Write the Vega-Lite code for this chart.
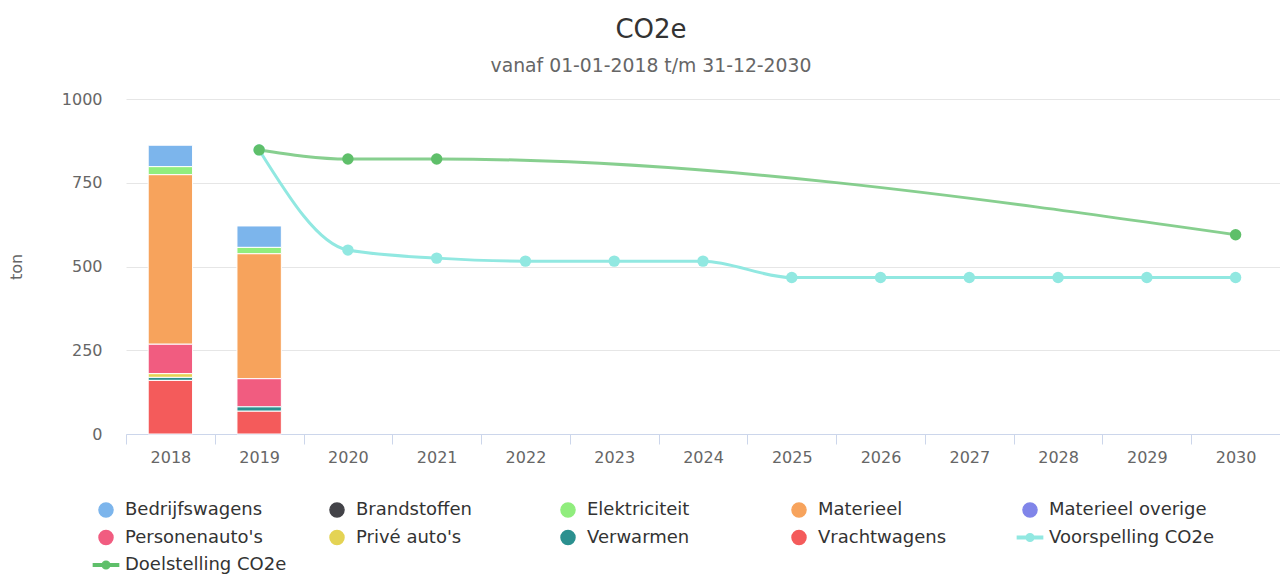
{
  "$schema": "https://vega.github.io/schema/vega-lite/v6.json",
  "width": 1154,
  "height": 335,
  "autosize": {"type": "none"},
  "padding": {"left": 126, "top": 99, "right": 0, "bottom": 143},
  "background": "white",
  "title": {
    "text": "CO2e",
    "subtitle": "vanaf 01-01-2018 t/m 31-12-2030",
    "anchor": "middle",
    "dx": -52,
    "fontSize": 26,
    "fontWeight": "normal",
    "color": "#333333",
    "subtitleFontSize": 18.8,
    "subtitleColor": "#666666",
    "subtitlePadding": 14,
    "offset": 15
  },
  "datasets": {
    "bars": [
      {"year": "2018", "series": "Bedrijfswagens", "value": 64},
      {"year": "2018", "series": "Elektriciteit", "value": 24},
      {"year": "2018", "series": "Materieel", "value": 506},
      {"year": "2018", "series": "Personenauto's", "value": 88},
      {"year": "2018", "series": "Privé auto's", "value": 11},
      {"year": "2018", "series": "Verwarmen", "value": 9},
      {"year": "2018", "series": "Vrachtwagens", "value": 160},
      {"year": "2019", "series": "Bedrijfswagens", "value": 64},
      {"year": "2019", "series": "Elektriciteit", "value": 19},
      {"year": "2019", "series": "Materieel", "value": 373},
      {"year": "2019", "series": "Personenauto's", "value": 84},
      {"year": "2019", "series": "Verwarmen", "value": 13},
      {"year": "2019", "series": "Vrachtwagens", "value": 68}
    ],
    "lines": [
      {"year": "2019", "series": "Voorspelling CO2e", "value": 848},
      {"year": "2020", "series": "Voorspelling CO2e", "value": 549},
      {"year": "2021", "series": "Voorspelling CO2e", "value": 525},
      {"year": "2022", "series": "Voorspelling CO2e", "value": 516},
      {"year": "2023", "series": "Voorspelling CO2e", "value": 516},
      {"year": "2024", "series": "Voorspelling CO2e", "value": 516},
      {"year": "2025", "series": "Voorspelling CO2e", "value": 467},
      {"year": "2026", "series": "Voorspelling CO2e", "value": 467},
      {"year": "2027", "series": "Voorspelling CO2e", "value": 467},
      {"year": "2028", "series": "Voorspelling CO2e", "value": 467},
      {"year": "2029", "series": "Voorspelling CO2e", "value": 467},
      {"year": "2030", "series": "Voorspelling CO2e", "value": 467},
      {"year": "2019", "series": "Doelstelling CO2e", "value": 848},
      {"year": "2020", "series": "Doelstelling CO2e", "value": 821},
      {"year": "2021", "series": "Doelstelling CO2e", "value": 821},
      {"year": "2030", "series": "Doelstelling CO2e", "value": 595}
    ]
  },
  "encoding": {
    "x": {
      "field": "year",
      "type": "nominal",
      "scale": {
        "domain": ["2018","2019","2020","2021","2022","2023","2024","2025","2026","2027","2028","2029","2030"],
        "paddingInner": 0,
        "paddingOuter": 0
      },
      "axis": {
        "title": null,
        "labelAngle": 0,
        "tickBand": "extent",
        "domainColor": "#ccd6eb",
        "tickColor": "#ccd6eb",
        "tickSize": 10,
        "labelPadding": 5,
        "labelFontSize": 16,
        "labelColor": "#666666",
        "grid": false
      }
    },
    "y": {
      "field": "value",
      "type": "quantitative",
      "scale": {"domain": [0, 1000], "nice": false},
      "axis": {
        "title": "ton",
        "values": [0, 250, 500, 750, 1000],
        "format": "d",
        "domain": false,
        "ticks": false,
        "grid": true,
        "gridColor": "#e6e6e6",
        "labelPadding": 24,
        "labelFontSize": 16,
        "labelColor": "#666666",
        "titleFontSize": 16,
        "titleFontWeight": "normal",
        "titleColor": "#666666",
        "titlePadding": 37
      }
    },
    "color": {
      "field": "series",
      "type": "nominal",
      "scale": {
        "domain": ["Bedrijfswagens","Brandstoffen","Elektriciteit","Materieel","Materieel overige","Personenauto's","Privé auto's","Verwarmen","Vrachtwagens","Voorspelling CO2e","Doelstelling CO2e"],
        "range": ["#7cb5ec","#434348","#90ed7d","#f7a35c","#8085e9","#f15c80","#e4d354","#2b908f","#f45b5b","#91e8e1","#5fbf6a"]
      },
      "legend": {
        "title": null,
        "orient": "none",
        "legendX": -29,
        "legendY": 402,
        "direction": "horizontal",
        "columns": 5,
        "gridAlign": "all",
        "columnPadding": 30,
        "rowPadding": 7.5,
        "padding": 0,
        "symbolSize": 196,
        "labelOffset": 10,
        "labelFontSize": 18,
        "labelColor": "#333333",
        "labelLimit": 300
      }
    }
  },
  "layer": [
    {
      "data": {"name": "bars"},
      "mark": {"type": "bar", "stroke": "white", "strokeWidth": 1, "width": {"band": 0.5}},
      "encoding": {
        "order": {"field": "series", "sort": "descending"}
      }
    },
    {
      "data": {"name": "lines"},
      "mark": {"type": "line", "interpolate": "monotone", "strokeWidth": 3},
      "encoding": {
        "opacity": {"condition": {"test": "datum.series === 'Doelstelling CO2e'", "value": 0.75}, "value": 1}
      }
    },
    {
      "data": {"name": "lines"},
      "mark": {"type": "circle", "size": 130, "opacity": 1}
    },
    {
      "data": {"name": "lines"},
      "mark": {"type": "point", "filled": true, "size": 0},
      "encoding": {
        "shape": {
          "field": "series",
          "type": "nominal",
          "scale": {
            "domain": ["Bedrijfswagens","Brandstoffen","Elektriciteit","Materieel","Materieel overige","Personenauto's","Privé auto's","Verwarmen","Vrachtwagens","Voorspelling CO2e","Doelstelling CO2e"],
            "range": ["circle","circle","circle","circle","circle","circle","circle","circle","circle","M-1.8,-0.17L1.8,-0.17L1.8,0.17L-1.8,0.17Z M-0.55,0A0.55,0.55 0 1,1 0.55,0A0.55,0.55 0 1,1 -0.55,0Z","M-1.8,-0.17L1.8,-0.17L1.8,0.17L-1.8,0.17Z M-0.55,0A0.55,0.55 0 1,1 0.55,0A0.55,0.55 0 1,1 -0.55,0Z"]
          },
          "legend": {
            "title": null,
            "orient": "none",
            "legendX": -29,
            "legendY": 402,
            "direction": "horizontal",
            "columns": 5,
            "gridAlign": "all",
            "columnPadding": 30,
            "rowPadding": 7.5,
            "padding": 0,
            "symbolSize": 196,
            "labelOffset": 10,
            "labelFontSize": 18,
            "labelColor": "#333333",
            "labelLimit": 300
          }
        }
      }
    }
  ],
  "config": {
    "font": "DejaVu Sans",
    "view": {"stroke": null}
  }
}
